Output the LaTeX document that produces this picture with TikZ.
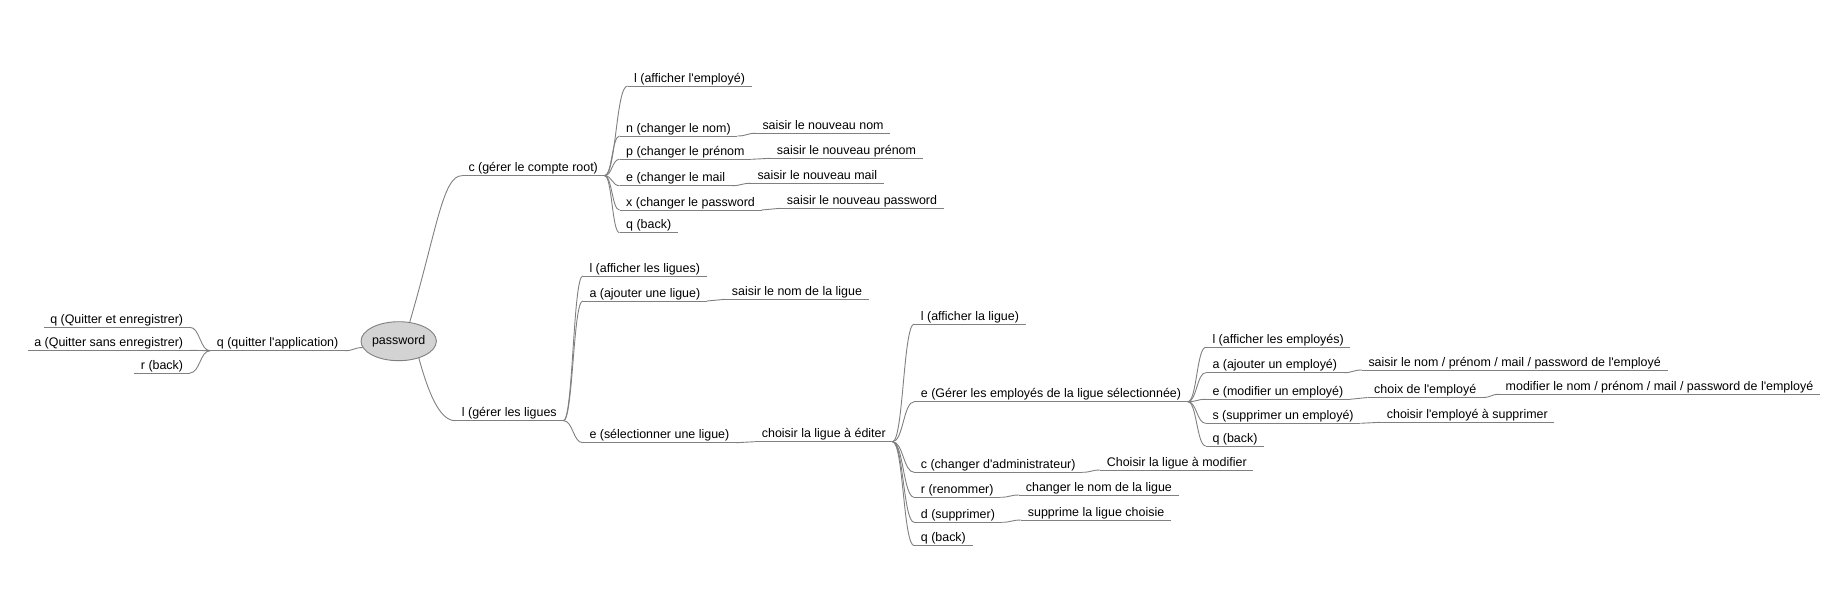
\documentclass[tikz,border=0pt]{standalone}
\usepackage{fontspec}
\setmainfont{Liberation Sans}
\usetikzlibrary{calc,shapes.geometric}
\definecolor{linec}{RGB}{128,128,128}
\definecolor{rootfill}{RGB}{211,211,211}
\newcommand{\apo}{\textquotesingle}
\tikzset{
  line/.style={draw=linec, line width=0.9pt},
  lbl/.style={font=\fontsize{12.45}{14}\selectfont, text=black, inner xsep=6.5pt, inner ysep=0pt, text height=9pt, text depth=3.7pt, anchor=south west},
  lblL/.style={lbl, anchor=south east},
  link/.style={to path={let \p1=(\tikztostart), \p2=(\tikztotarget), \p3=($(\p1)!0.5!(\p2)$) in .. controls (\x3,\y1) and (\x3,\y2) .. (\tikztotarget)}}
}
\begin{document}
\begin{tikzpicture}[x=1pt,y=1pt]
\useasboundingbox (0,0) rectangle (1829,-597);
\node[shape=ellipse, draw=linec, line width=0.9pt, fill=rootfill, minimum width=72.6pt, minimum height=39pt, inner sep=0pt, font=\fontsize{12.45}{14}\selectfont] (root) at (398.7,-341.2) {password};

% left branch
\node[lbl] (quit) at (210.2,-350.7) {q (quitter l\apo application)};
\node[lblL] (qe) at (189.8,-327.3) {q (Quitter et enregistrer)};
\node[lblL] (qa) at (189.8,-350.3) {a (Quitter sans enregistrer)};
\node[lblL] (qr) at (189.8,-373) {r (back)};

% compte root
\node[lbl] (c) at (461.8,-175.7) {c (gérer le compte root)};
\node[lbl] (ca) at (627.5,-86) {l (afficher l\apo employé)};
\node[lbl] (cn) at (619.5,-136) {n (changer le nom)};
\node[lbl] (cp) at (619.5,-159.3) {p (changer le prénom};
\node[lbl] (ce) at (619.5,-185.7) {e (changer le mail};
\node[lbl] (cx) at (619.5,-210) {x (changer le password};
\node[lbl] (cq) at (619.5,-232.7) {q (back)};
\node[lbl] (cn1) at (755.8,-133.3) {saisir le nouveau nom};
\node[lbl] (cp1) at (770.2,-158.3) {saisir le nouveau prénom};
\node[lbl] (ce1) at (750.8,-183.3) {saisir le nouveau mail};
\node[lbl] (cx1) at (780.2,-208.3) {saisir le nouveau password};

% ligues
\node[lbl] (lg) at (455.2,-420.7) {l (gérer les ligues};
\node[lbl] (la) at (582.8,-276) {l (afficher les ligues)};
\node[lbl] (lad) at (582.8,-301) {a (ajouter une ligue)};
\node[lbl] (lad1) at (725.2,-299.3) {saisir le nom de la ligue};
\node[lbl] (ls) at (582.8,-442.7) {e (sélectionner une ligue)};
\node[lbl] (ls1) at (755.2,-441.7) {choisir la ligue à éditer};
\node[lbl] (sl) at (914.2,-324) {l (afficher la ligue)};
\node[lbl] (se) at (914.2,-401.7) {e (Gérer les employés de la ligue sélectionnée)};
\node[lbl] (sc) at (914.2,-472.3) {c (changer d\apo administrateur)};
\node[lbl] (sc1) at (1100.2,-470) {Choisir la ligue à modifier};
\node[lbl] (sr) at (914.2,-497.3) {r (renommer)};
\node[lbl] (sr1) at (1019.2,-495) {changer le nom de la ligue};
\node[lbl] (sd) at (914.2,-522.3) {d (supprimer)};
\node[lbl] (sd1) at (1021.2,-520) {supprime la ligue choisie};
\node[lbl] (sq) at (914.2,-545.7) {q (back)};
\node[lbl] (el) at (1205.8,-347.3) {l (afficher les employés)};
\node[lbl] (ea) at (1205.8,-372.7) {a (ajouter un employé)};
\node[lbl] (ea1) at (1361.8,-370) {saisir le nom / prénom / mail / password de l\apo employé};
\node[lbl] (em) at (1205.8,-399.3) {e (modifier un employé)};
\node[lbl] (em1) at (1367.5,-397.5) {choix de l\apo employé};
\node[lbl] (em2) at (1499,-394.3) {modifier le nom / prénom / mail / password de l\apo employé};
\node[lbl] (es) at (1205.8,-423.3) {s (supprimer un employé)};
\node[lbl] (es1) at (1380.2,-422.3) {choisir l\apo employé à supprimer};
\node[lbl] (eq) at (1205.8,-446) {q (back)};

% underlines
\foreach \nm in {quit,qe,qa,qr,c,ca,cn,cp,ce,cx,cq,cn1,cp1,ce1,cx1,lg,la,lad,lad1,ls,ls1,sl,se,sc,sc1,sr,sr1,sd,sd1,sq,el,ea,ea1,em,em1,em2,es,es1,eq}
  \draw[line] (\nm.south west) -- (\nm.south east);

% connectors
\draw[line] (quit.south east) to[link] (root.190);
\foreach \nm in {qe,qa,qr} \draw[line] (quit.south west) to[link] (\nm.south east);
\draw[line] (root.60) .. controls +(27,92) and +(-19,0) .. (c.south west);
\draw[line] (root.-40) .. controls +(9,-33) and +(-16,0) .. (lg.south west);
\foreach \nm in {ca,cn,cp,ce,cx,cq} \draw[line] (c.south east) to[link] (\nm.south west);
\draw[line] (cn.south east) to[link] (cn1.south west);
\draw[line] (cp.south east) to[link] (cp1.south west);
\draw[line] (ce.south east) to[link] (ce1.south west);
\draw[line] (cx.south east) to[link] (cx1.south west);
\foreach \nm in {la,lad,ls} \draw[line] (lg.south east) to[link] (\nm.south west);
\draw[line] (lad.south east) to[link] (lad1.south west);
\draw[line] (ls.south east) to[link] (ls1.south west);
\foreach \nm in {sl,se,sc,sr,sd,sq} \draw[line] (ls1.south east) to[link] (\nm.south west);
\draw[line] (sc.south east) to[link] (sc1.south west);
\draw[line] (sr.south east) to[link] (sr1.south west);
\draw[line] (sd.south east) to[link] (sd1.south west);
\foreach \nm in {el,ea,em,es,eq} \draw[line] (se.south east) to[link] (\nm.south west);
\draw[line] (ea.south east) to[link] (ea1.south west);
\draw[line] (em.south east) to[link] (em1.south west);
\draw[line] (em1.south east) to[link] (em2.south west);
\draw[line] (es.south east) to[link] (es1.south west);
\end{tikzpicture}
\end{document}
